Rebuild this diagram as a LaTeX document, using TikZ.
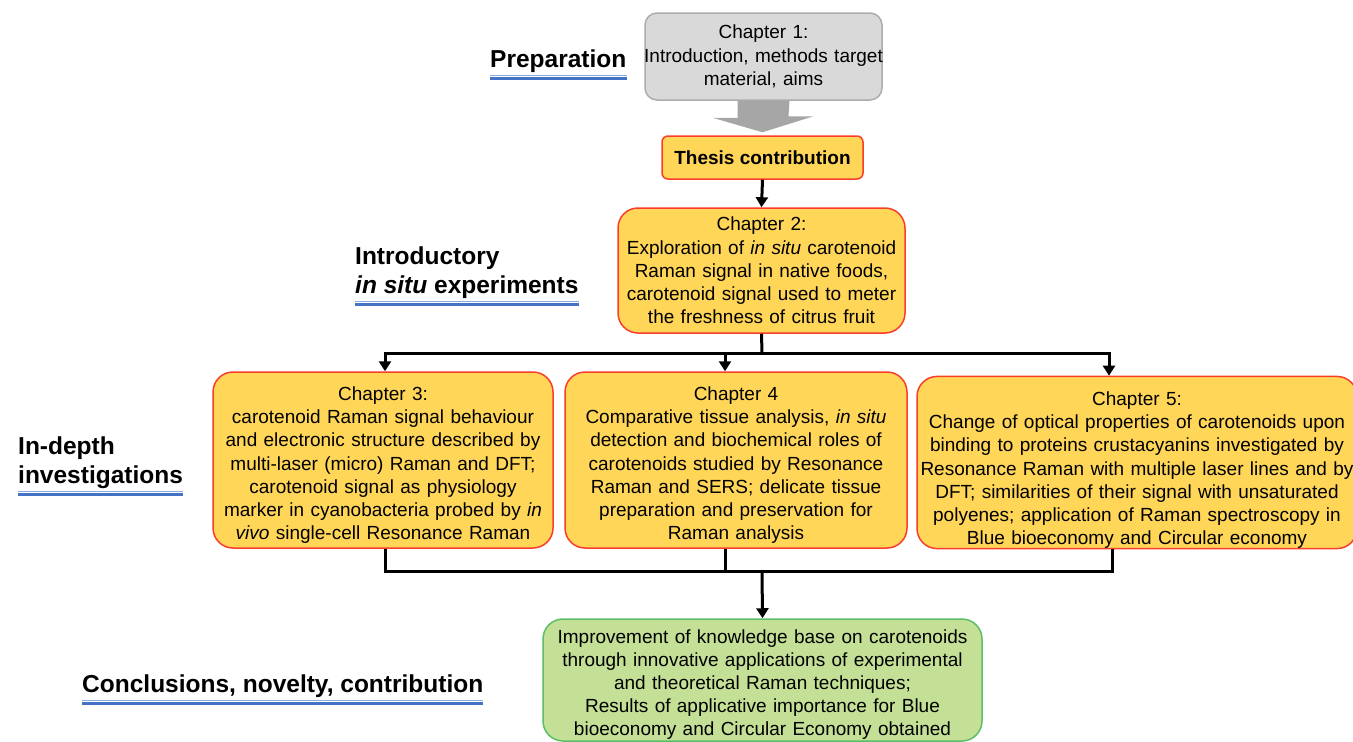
\documentclass[tikz,border=0pt]{standalone}
\usepackage{fontspec}
\setmainfont{Liberation Sans}
\usepackage{xcolor}
\usepackage{tikz}
\usetikzlibrary{arrows.meta,calc}

\definecolor{boxyellow}{RGB}{255,214,88}
\definecolor{boxred}{RGB}{250,62,42}
\definecolor{boxgray}{RGB}{217,217,217}
\definecolor{edgegray}{RGB}{172,172,172}
\definecolor{arrowgray}{RGB}{166,166,166}
\definecolor{boxgreen}{RGB}{196,224,150}
\definecolor{edgegreen}{RGB}{92,190,104}
\definecolor{ulinedark}{RGB}{68,114,196}
\definecolor{ulinelight}{RGB}{143,170,220}

\begin{document}
\begin{tikzpicture}[x=1pt,y=-1pt,
    chapbox/.style={draw=boxred, line width=1.5pt, fill=boxyellow, rounded corners=20pt,
        align=center, inner ysep=0pt, inner xsep=-10pt, font=\fontsize{19}{23.2}\selectfont},
    graybox/.style={chapbox, draw=edgegray, fill=boxgray, rounded corners=12pt},
    greenbox/.style={chapbox, draw=edgegreen, fill=boxgreen},
    lower/.style={execute at begin node={\rule{0pt}{#1}}},
    heading/.style={font=\fontsize{24.5}{29}\selectfont\bfseries, align=left,
        inner sep=0pt, anchor=base west},
    link/.style={line width=3pt},
    conn/.style={link, -{Triangle[length=10pt,width=12pt]}}]
    \useasboundingbox (0,0) rectangle (1353,742);

    \node[graybox, minimum width=237pt, minimum height=87pt, text width=257pt] (ch1) at (763.5,56.5)
        {Chapter 1:\\ Introduction, methods target\\ material, aims};
    \node[chapbox, rounded corners=6pt, inner xsep=0pt, minimum width=201pt, minimum height=43pt,
        font=\fontsize{19}{23.2}\selectfont\bfseries] (thesis) at (762.5,157.5) {Thesis contribution};
    \node[chapbox, minimum width=287pt, minimum height=125pt, text width=307pt] (ch2) at (761.5,270.5)
        {Chapter 2:\\ Exploration of \textit{in situ} carotenoid\\ Raman signal in native foods,\\
         carotenoid signal used to meter\\ the freshness of citrus fruit};
    \node[chapbox, lower=24pt, minimum width=340pt, minimum height=176pt, text width=360pt] (ch3) at (383,460)
        {Chapter 3:\\ carotenoid Raman signal behaviour\\ and electronic structure described by\\
         multi-laser (micro) Raman and DFT;\\ carotenoid signal as physiology\\
         marker in cyanobacteria probed by \textit{in}\\ \textit{vivo} single-cell Resonance Raman};
    \node[chapbox, lower=24pt, minimum width=342pt, minimum height=176pt, text width=362pt] (ch4) at (736,460)
        {Chapter 4\\ Comparative tissue analysis, \textit{in situ}\\ detection and biochemical roles of\\
         carotenoids studied by Resonance\\ Raman and SERS; delicate tissue\\
         preparation and preservation for\\ Raman analysis};
    \node[chapbox, lower=29pt, minimum width=440pt, minimum height=171pt, text width=460pt] (ch5) at (1137,462.5)
        {Chapter 5:\\ Change of optical properties of carotenoids upon\\
         binding to proteins crustacyanins investigated by\\
         Resonance Raman with multiple laser lines and by\\
         DFT; similarities of their signal with unsaturated\\
         polyenes; application of Raman spectroscopy in\\ Blue bioeconomy and Circular economy};
    \node[greenbox, lower=23pt, minimum width=439pt, minimum height=122pt, text width=459pt] (concl) at (762.5,680)
        {Improvement of knowledge base on carotenoids\\ through innovative applications of experimental\\
         and theoretical Raman techniques;\\ Results of applicative importance for Blue\\
         bioeconomy and Circular Economy obtained};

    % stage titles
    \node[heading] (prep) at (490,67) {Preparation};
    \node[heading] (intro) at (355,293) {Introductory\\ \textit{in situ} experiments};
    \node[heading] (depth) at (18,483) {In-depth\\ investigations};
    \node[heading] (result) at (82,692) {Conclusions, novelty, contribution};
    \foreach \h in {prep,intro,depth,result}{
        \draw[ulinelight, line width=1.5pt] ([yshift=-3pt]\h.south west) -- ([yshift=-3pt]\h.south east);
        \draw[ulinedark, line width=3pt] ([yshift=-6.5pt]\h.south west) -- ([yshift=-6.5pt]\h.south east);
    }

    % block arrow
    \fill[arrowgray] ([xshift=-26pt]ch1.south) -- ++(0,17) -- ++(-25,0) -- ([yshift=3pt]thesis.north)
        -- ++(51,-16) -- ++(-25,0) -- ([xshift=26pt]ch1.south) -- cycle;

    % connectors
    \coordinate (split) at (762,353);
    \coordinate (join) at (762,571);
    \draw[conn] (thesis.south) -- (ch2.north);
    \draw[link] (ch2.south) -- (split);
    \draw[conn] (split) -| ([xshift=2pt]ch3.north);
    \draw[conn] (split) -| ([xshift=-28pt]ch5.north);
    \draw[conn] ([xshift=-11pt]ch4.north |- split) -- ([xshift=-11pt]ch4.north);
    \draw[link] ([xshift=2pt]ch3.south) |- (join);
    \draw[link] ([xshift=-25pt]ch5.south) |- (join);
    \draw[link] ([xshift=-11pt]ch4.south) -- ([xshift=-11pt]ch4.south |- join);
    \draw[conn] (join) -- (concl.north);
\end{tikzpicture}
\end{document}
